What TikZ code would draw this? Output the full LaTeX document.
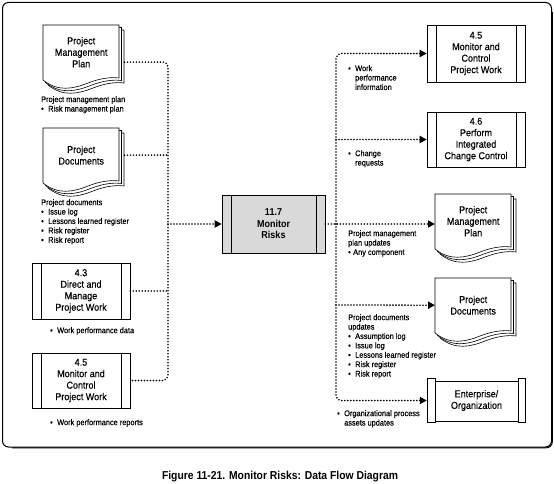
\documentclass[tikz,border=0pt]{standalone}
\usepackage{fontspec}
\setmainfont{Liberation Sans}[FakeStretch=0.9, UprightFeatures={FakeBold=0.4}]
\usetikzlibrary{arrows.meta,calc}
\newcommand{\boxfont}{\fontsize{10}{11.5}\selectfont}
\newcommand{\lblfont}{\fontsize{8.2}{9.4}\selectfont}
\newcommand{\itm}[1]{\makebox[7pt][l]{•}#1}
\newcommand{\ind}{\hspace*{7pt}}
\newcommand{\docat}[2]{%
  \foreach \off in {5,2.5,0}{%
    \begin{scope}[shift={(#1+\off,#2+\off)}]
      \draw[line width=0.6pt, fill=white] (0,55) -- (0,0) -- (76,0) -- (76,53)
        .. controls (68,52) and (58,53) .. (45,58)
        .. controls (30,64) and (15,67) .. (0,55) -- cycle;
    \end{scope}}}
\tikzset{
  frame/.style={line width=1pt, rounded corners=6pt},
  flow/.style={line width=1.8pt, line cap=round, dash pattern=on 0pt off 3pt, rounded corners=5pt},
  tip/.style={-{Triangle[length=7pt,width=7pt]}},
  procbox/.style={draw, line width=0.6pt, fill=white, minimum width=98pt, minimum height=56pt,
    align=center, font=\boxfont, inner sep=0pt,
    path picture={\draw[line width=0.6pt]
      ([xshift=9pt]path picture bounding box.north west) -- ([xshift=9pt]path picture bounding box.south west)
      ([xshift=-9pt]path picture bounding box.north east) -- ([xshift=-9pt]path picture bounding box.south east);}},
  scrollbox/.style={minimum width=99pt, minimum height=45pt, align=center, font=\boxfont, inner sep=0pt,
    path picture={\draw[line width=0.6pt]
      ([xshift=0.3pt,yshift=-0.3pt]path picture bounding box.north west) rectangle ([xshift=8pt,yshift=0.3pt]path picture bounding box.south west)
      ([xshift=-0.3pt,yshift=-0.3pt]path picture bounding box.north east) rectangle ([xshift=-8pt,yshift=0.3pt]path picture bounding box.south east)
      ([xshift=8pt,yshift=-3pt]path picture bounding box.north west) rectangle ([xshift=-8pt,yshift=2pt]path picture bounding box.south east);}},
  docnode/.style={minimum width=76pt, minimum height=54pt, align=center, font=\boxfont, inner sep=0pt, anchor=north west},
  lbl/.style={anchor=north west, align=left, inner sep=0pt, font=\lblfont},
}
\begin{document}
\begin{tikzpicture}[x=1pt,y=-1pt]
\useasboundingbox (0,0) rectangle (554,484);
\draw[frame] (2.5,2.5) rectangle (551.5,447);
\draw[frame] (552.3,12) -- (552.3,447.8) -- (12,447.8);

% left documents
\docat{43}{25}
\node[docnode] (pmpL) at (43,25) {Project\\Management\\Plan};
\docat{43}{128}
\node[docnode] (pdL) at (43,128) {Project\\Documents};

% left processes
\node[procbox] (dmL) at (81,291) {4.3\\Direct and\\Manage\\Project Work};
\node[procbox, minimum height=55pt] (mcL) at (81,380.5) {4.5\\Monitor and\\Control\\Project Work};

% center
\node[procbox, fill=gray!30, minimum width=103pt, minimum height=58pt, font=\boxfont\bfseries] (risk) at (273.5,224) {11.7\\Monitor\\Risks};

% right processes
\node[procbox, minimum height=57pt] (mcR) at (476,53.5) {4.5\\Monitor and\\Control\\Project Work};
\node[procbox, minimum height=55pt] (icc) at (476,139.5) {4.6\\Perform\\Integrated\\Change Control};

% right documents
\docat{435}{194}
\node[docnode] (pmpR) at (435,194) {Project\\Management\\Plan};
\docat{435}{278}
\node[docnode] (pdR) at (435,278) {Project\\Documents};

\node[scrollbox] (ent) at (476.5,400.5) {Enterprise/\\Organization};

% left connectors
\coordinate (busL) at (168,224);
\draw[flow] ($(pmpL.east)+(5,10)$) -- (168,62) -- (168,380.5) -- (mcL.east);
\draw[flow] ($(pdL.east)+(5,0)$) -- (168,155);
\draw[flow] (dmL.east) -- (168,291);
\draw[flow,tip] (busL) -- (risk.west);

% right connectors
\coordinate (busR) at (336,224);
\draw[flow,tip] (risk.east) -- (pmpR.west |- risk.east);
\draw[flow,tip] (busR) -- (336,53.5) -- (mcR.west);
\draw[flow,tip] (336,139.5) -- (icc.west);
\draw[flow,tip] (336,305) -- (pdR.west);
\draw[flow,tip] (busR) -- (336,400.5) -- (ent.west);

% labels
\node[lbl] (l1) at (41,96) {Project management plan\\\itm{Risk management plan}};
\node[lbl] (l2) at (41,199) {Project documents\\\itm{Issue log}\\\itm{Lessons learned register}\\\itm{Risk register}\\\itm{Risk report}};
\node[lbl] (l3) at (50,327) {\itm{Work performance data}};
\node[lbl] (l4) at (50,419) {\itm{Work performance reports}};
\node[lbl] (l5) at (348,65) {\itm{Work}\\\ind performance\\\ind information};
\node[lbl] (l6) at (348,150) {\itm{Change}\\\ind requests};
\node[lbl] (l7) at (348,230) {Project management\\plan updates\\\makebox[5pt][l]{•}Any component};
\node[lbl] (l8) at (348,314) {Project documents\\updates\\\itm{Assumption log}\\\itm{Issue log}\\\itm{Lessons learned register}\\\itm{Risk register}\\\itm{Risk report}};
\node[lbl] (l9) at (337,410) {\itm{Organizational process}\\\ind assets updates};

% caption
\node[font=\fontsize{11.5}{13}\selectfont\bfseries] (cap) at (280,477) {Figure 11-21. Monitor Risks: Data Flow Diagram};
\end{tikzpicture}
\end{document}
